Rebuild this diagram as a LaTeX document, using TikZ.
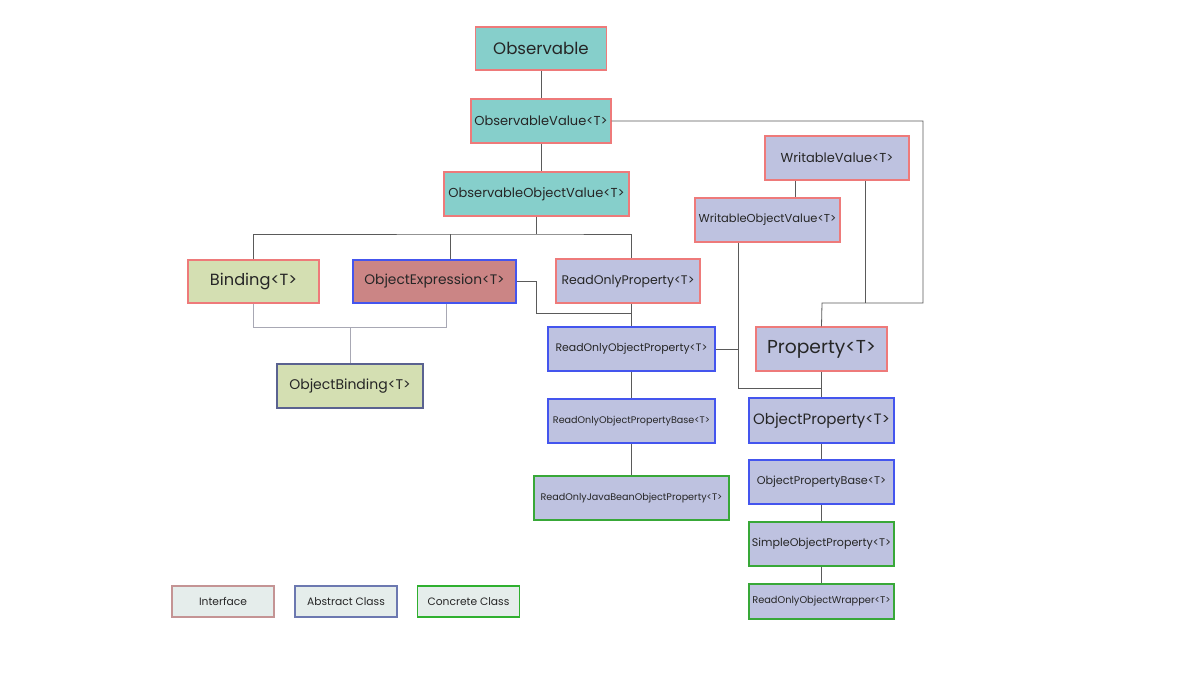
\documentclass[tikz,border=0pt]{standalone}
\usepackage{fontspec}
\setmainfont{Poppins}
\usetikzlibrary{positioning}

\definecolor{tealfill}{HTML}{86CFCB}
\definecolor{lavfill}{HTML}{BEC2E0}
\definecolor{olivefill}{HTML}{D4DFB2}
\definecolor{rosefill}{HTML}{CB8585}
\definecolor{legfill}{HTML}{E5EDEB}
\definecolor{ifaceline}{HTML}{EE7A7A}
\definecolor{abstrline}{HTML}{4455EE}
\definecolor{concline}{HTML}{38A838}
\definecolor{navyline}{HTML}{5A6290}
\definecolor{legiface}{HTML}{C49494}
\definecolor{legabstr}{HTML}{6C78B0}
\definecolor{legconc}{HTML}{2FB02F}
\definecolor{linkgray}{HTML}{5A5A5A}
\definecolor{softgray}{HTML}{A8A8B4}

\tikzset{
    box/.style={draw, line width=1.3pt, inner sep=0pt, minimum height=44pt, text=black!85},
    iface/.style={box, draw=ifaceline},
    abstr/.style={box, draw=abstrline},
    concr/.style={box, draw=concline},
    link/.style={draw=linkgray, line width=0.8pt},
    softlink/.style={draw=softgray, line width=0.8pt},
    legend/.style={box, fill=legfill, minimum width=102pt, minimum height=31pt, font=\fontsize{10.7}{12}\selectfont}
}

\begin{document}
\begin{tikzpicture}[x=1pt, y=-1pt]
    \useasboundingbox[fill=white] (0,0) rectangle (1200,675);

    \node[iface, fill=tealfill, minimum width=131pt, minimum height=43pt, font=\fontsize{16.6}{20}\selectfont] (obs) at (541,48.5) {Observable};
    \node[iface, fill=tealfill, minimum width=140pt, font=\fontsize{13}{15}\selectfont] (obsval) at (541,121) {ObservableValue<T>};
    \node[iface, fill=tealfill, minimum width=185pt, font=\fontsize{13}{15}\selectfont] (obsobjval) at (536.5,194) {ObservableObjectValue<T>};

    \node[iface, fill=olivefill, minimum width=131pt, minimum height=43pt, font=\fontsize{16.2}{18}\selectfont] (binding) at (253.5,281.5) {Binding<T>};
    \node[abstr, fill=rosefill, minimum width=163pt, minimum height=43pt, font=\fontsize{13.8}{16}\selectfont] (objexpr) at (434.5,281.5) {ObjectExpression<T>};
    \node[iface, fill=lavfill, minimum width=144pt, font=\fontsize{12.5}{15}\selectfont] (roprop) at (628,281) {ReadOnlyProperty<T>};
    \node[box, draw=navyline, fill=olivefill, minimum width=146pt, font=\fontsize{14}{17}\selectfont] (objbinding) at (350,386) {ObjectBinding<T>};

    \node[abstr, fill=lavfill, minimum width=167pt, font=\fontsize{10.9}{13}\selectfont] (roobjprop) at (631.5,349) {ReadOnlyObjectProperty<T>};
    \node[abstr, fill=lavfill, minimum width=167pt, font=\fontsize{9.6}{12}\selectfont] (robase) at (631.5,421) {ReadOnlyObjectPropertyBase<T>};
    \node[concr, fill=lavfill, minimum width=195pt, font=\fontsize{9.6}{12}\selectfont] (robean) at (631.5,498) {ReadOnlyJavaBeanObjectProperty<T>};

    \node[iface, fill=lavfill, minimum width=144pt, font=\fontsize{13}{15}\selectfont] (wval) at (837,158) {WritableValue<T>};
    \node[iface, fill=lavfill, minimum width=145pt, font=\fontsize{11.5}{14}\selectfont] (wobjval) at (767.5,220) {WritableObjectValue<T>};

    \node[iface, fill=lavfill, minimum width=131pt, font=\fontsize{18.7}{22}\selectfont] (prop) at (821.5,349) {Property<T>};
    \node[abstr, fill=lavfill, minimum width=145pt, minimum height=45pt, font=\fontsize{15}{18}\selectfont] (objprop) at (821.5,420.5) {ObjectProperty<T>};
    \node[abstr, fill=lavfill, minimum width=145pt, font=\fontsize{11.2}{13}\selectfont] (objbase) at (821.5,482) {ObjectPropertyBase<T>};
    \node[concr, fill=lavfill, minimum width=145pt, font=\fontsize{11.1}{14}\selectfont] (simple) at (821.5,544) {SimpleObjectProperty<T>};
    \node[concr, fill=lavfill, minimum width=145pt, minimum height=35pt, font=\fontsize{9.8}{12}\selectfont] (wrapper) at (821.5,601.5) {ReadOnlyObjectWrapper<T>};

    \node[legend, draw=legiface] (leginterface) at (223,601.5) {Interface};
    \node[legend, draw=legabstr] (legabstract) at (346,601.5) {Abstract Class};
    \node[legend, draw=legconc] (legconcrete) at (468.5,601.5) {Concrete Class};

    \coordinate (bus) at (537,234);
    \coordinate (oejoin) at (536,313);
    \coordinate (objbus) at (350,327);
    \coordinate (rightturn) at (923,303);
    \coordinate (propbus) at (822,303);
    \coordinate (wjoin) at (738,388);

    \draw[link] (obs) -- (obsval);
    \draw[link] (obsval.south) -- (obsval.south |- obsobjval.north);
    \draw[link] (obsobjval.south) -- (obsobjval.south |- bus);
    \draw[link] (binding.north) |- (bus) -| (roobjprop.north |- roprop.north);
    \draw[link] ([xshift=15.5pt]objexpr.north) -- ([xshift=15.5pt]objexpr.north |- bus);

    \draw[softlink] (binding.south) |- (objbus) -- (objbinding.north);
    \draw[softlink] ([xshift=11.5pt]objexpr.south) |- (objbus);

    \draw[link] (objexpr.east) -| (oejoin) -| (roobjprop.north);
    \draw[link] (roobjprop.north |- roprop.south) -- (roobjprop.north);
    \draw[link] (roobjprop) -- (robase);
    \draw[link] (robase) -- (robean);

    \draw[link] (obsval.east) -| (rightturn) -- (propbus) -- (prop.north);
    \draw[link] ([xshift=28pt]wval.south) -- ([xshift=28pt]wval.south |- propbus);
    \draw[link] ([xshift=-42pt]wval.south) -- ([xshift=-42pt]wval.south |- wobjval.north);
    \draw[link] ([xshift=-29.5pt]wobjval.south) -- (wjoin) -| (objprop.north);
    \draw[link] (roobjprop.east) -- (roobjprop.east -| wjoin);
    \draw[link] (prop.south) -- (prop.south |- wjoin);

    \draw[link] (objprop) -- (objbase);
    \draw[link] (objbase) -- (simple);
    \draw[link] (simple) -- (wrapper);
\end{tikzpicture}
\end{document}
